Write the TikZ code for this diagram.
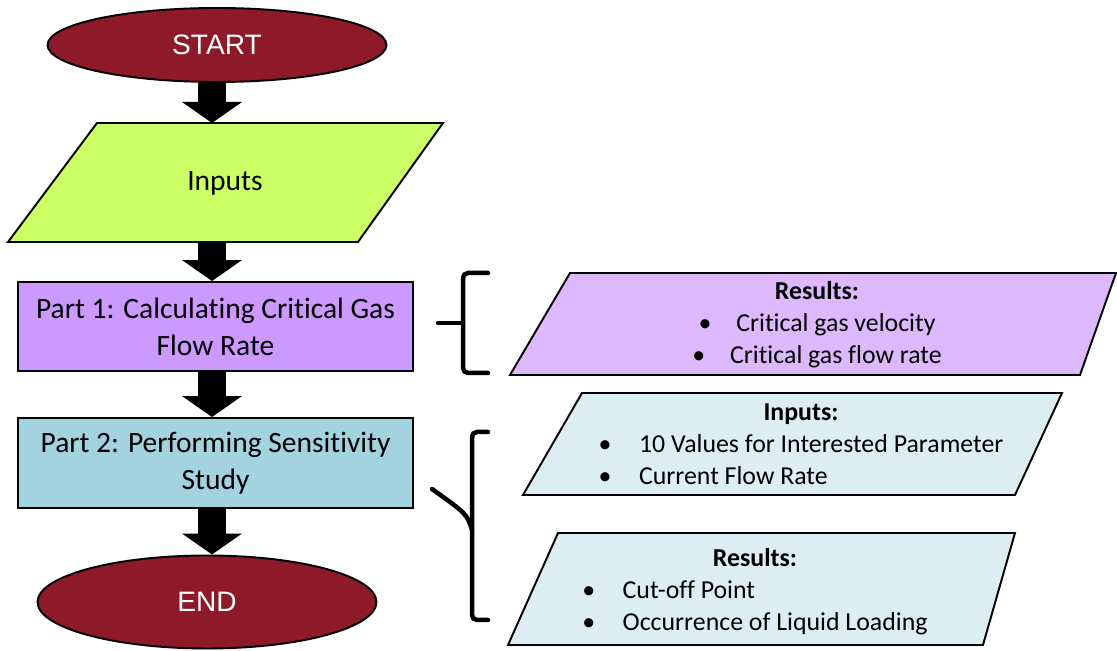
\documentclass[tikz,border=0pt]{standalone}
\usepackage{fontspec}
\setmainfont{Carlito}[Ligatures={NoCommon,NoContextual}]
\newfontfamily\arialfont{Liberation Sans}
\usepackage{tikz}
\usetikzlibrary{shapes.geometric,arrows.meta,positioning}
\usepackage{xcolor}
\definecolor{termred}{HTML}{8E1A29}
\definecolor{inlime}{HTML}{CCFF66}
\definecolor{partone}{HTML}{CC99FF}
\definecolor{parttwo}{HTML}{A2D3DF}
\definecolor{resviolet}{HTML}{DCB8FC}
\definecolor{resblue}{HTML}{DDEEF3}

\begin{document}
\begin{tikzpicture}[x=0.02cm, y=-0.02cm,
    term/.style={draw, ellipse, fill=termred, line width=1.1pt, text=white, font=\arialfont\fontsize{16}{19}\selectfont, minimum width=6.78cm},
    partbox/.style={draw, rectangle, line width=1.1pt, minimum width=7.9cm, align=center, font=\fontsize{16.8}{21}\selectfont},
    databox/.style={draw, line width=1.1pt},
    datatext/.style={font=\fontsize{14.7}{18.2}\selectfont, align=center},
    flow/.style={line width=0.58cm, -{Triangle[width=1.18cm, length=0.42cm]}},
    brace/.style={line width=0.09cm, line cap=round, rounded corners=0.1cm}]
    \useasboundingbox (0,0) rectangle (1117,651);

    % main flow
    \node[term, minimum height=1.48cm] (start) at (217,45) {START};

    \draw[databox, fill=inlime] (97,123) -- (443,123) -- (358,242) -- (8,242) -- cycle;
    \node[font=\fontsize{16.8}{21}\selectfont] (inputs) at (225,183) {Inputs};
    \coordinate (inputs-top) at (212,123);
    \coordinate (inputs-bot) at (212,242);

    \node[partbox, fill=partone, minimum height=1.78cm] (part1) at (215.5,326.5) {Part 1: Calculating Critical Gas\\Flow Rate};
    \node[partbox, fill=parttwo, minimum height=1.8cm] (part2) at (215.5,463) {Part 2: Performing Sensitivity\\Study};
    \node[term, minimum height=1.86cm] (end) at (207,602) {END};

    \draw[flow] (inputs-top |- start.south) -- (inputs-top);
    \draw[flow] (inputs-bot) -- (inputs-bot |- part1.north);
    \draw[flow] (inputs-bot |- part1.south) -- (inputs-bot |- part2.north);
    \draw[flow] (inputs-bot |- part2.south) -- (inputs-bot |- end.north);

    % side boxes
    \draw[databox, fill=resviolet] (570,273) -- (1116,273) -- (1080,375) -- (510,375) -- cycle;
    \node[datatext] (res1) at (817,325) {\textbf{Results:}\\ •\hspace{0.5cm}Critical gas velocity\\ •\hspace{0.5cm}Critical gas flow rate};

    \draw[databox, fill=resblue] (582,393) -- (1062,393) -- (1015,495) -- (523,495) -- cycle;
    \node[datatext] (inp2) at (801,446) {\begin{tabular}{@{}l@{\hspace{0.55cm}}l@{}}
        \multicolumn{2}{c}{\textbf{Inputs:}}\\
        • & 10 Values for Interested Parameter\\
        • & Current Flow Rate
    \end{tabular}};

    \draw[databox, fill=resblue] (558,533) -- (1015,533) -- (983,645) -- (508,645) -- cycle;
    \node[datatext] (res2) at (755,592) {\begin{tabular}{@{}l@{\hspace{0.55cm}}l@{}}
        \multicolumn{2}{c}{\textbf{Results:}}\\
        • & Cut-off Point\\
        • & Occurrence of Liquid Loading
    \end{tabular}};

    % braces
    \draw[brace] (488,273) -- (463,273) -- (463,373) -- (488,373);
    \draw[brace] (463,323) -- (438,323);
    \draw[brace] (488,432) -- (472,432) -- (472,620) -- (488,620);
    \draw[brace] (472,530) .. controls (467,514) .. (432,489);
\end{tikzpicture}
\end{document}
